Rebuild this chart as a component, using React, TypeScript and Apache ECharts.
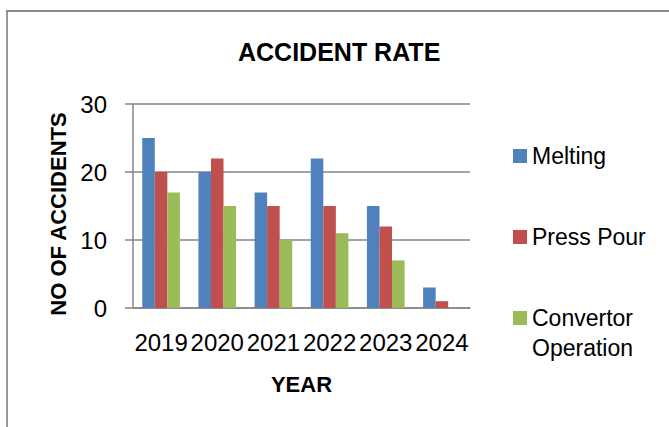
import React, { useEffect, useRef } from "react";
import * as echarts from "echarts";

const years = ["2019", "2020", "2021", "2022", "2023", "2024"];
const melting = [25, 20, 17, 22, 15, 3];
const pressPour = [20, 22, 15, 15, 12, 1];
const convertor = [17, 15, 10, 11, 7, 0];
const seriesNames = ["Melting", "Press Pour", "Convertor Operation"];
const yMin = 0;
const yMax = 30;
const yStep = 10;

const FONT = "'Liberation Sans', Arial, sans-serif";
const GRAY = "#868686";

export default function App() {
  const ref = useRef<HTMLDivElement>(null);
  useEffect(() => {
    if (!ref.current) return;
    const chart = echarts.init(ref.current, undefined, { renderer: "svg" });
    const legendBase = {
      orient: "vertical",
      left: 513,
      padding: 0,
      itemWidth: 14,
      itemHeight: 14,
      icon: "rect",
      selectedMode: false,
    };
    const legendText = { fontFamily: FONT, fontSize: 23, lineHeight: 30, color: "#000" };
    chart.setOption({
      animation: false,
      backgroundColor: "#ffffff",
      title: {
        text: "ACCIDENT RATE",
        left: 233,
        top: 34,
        textStyle: { fontFamily: FONT, fontSize: 25, fontWeight: "bold", color: "#000" },
      },
      graphic: [
        { type: "line", shape: { x1: 6, y1: 11, x2: 669, y2: 11 }, style: { stroke: "#8c8c8c", lineWidth: 1.8 } },
        { type: "line", shape: { x1: 7, y1: 11, x2: 7, y2: 427 }, style: { stroke: "#8c8c8c", lineWidth: 1.8 } },
      ],
      legend: [
        { ...legendBase, top: 141, data: [seriesNames[0]], textStyle: legendText },
        { ...legendBase, top: 222, data: [seriesNames[1]], textStyle: legendText },
        {
          ...legendBase,
          top: 273,
          data: [seriesNames[2]],
          formatter: () => " \nConvertor\nOperation",
          textStyle: legendText,
        },
      ],
      grid: { left: 133, right: 199, top: 104, bottom: 119, containLabel: false },
      xAxis: {
        type: "category",
        data: years,
        axisTick: { show: false },
        axisLine: { lineStyle: { color: GRAY, width: 1.5 } },
        axisLabel: { fontFamily: FONT, fontSize: 24, color: "#000", margin: 22, interval: 0 },
        name: "YEAR",
        nameLocation: "middle",
        nameGap: 65,
        nameTextStyle: { fontFamily: FONT, fontSize: 22, fontWeight: "bold", color: "#000" },
      },
      yAxis: {
        type: "value",
        min: yMin,
        max: yMax,
        interval: yStep,
        axisLine: { show: true, lineStyle: { color: GRAY, width: 1.5 } },
        axisTick: { show: true, inside: false, length: 8, lineStyle: { color: GRAY, width: 1.5 } },
        splitLine: { lineStyle: { color: GRAY, width: 1.5 } },
        axisLabel: { fontFamily: FONT, fontSize: 24, color: "#000", margin: 26 },
        name: "NO OF ACCIDENTS",
        nameLocation: "middle",
        nameGap: 63,
        nameTextStyle: {
          fontFamily: FONT,
          fontSize: 22,
          fontWeight: "bold",
          color: "#000",
          padding: [0, 16, 0, 0],
        },
      },
      series: [
        { name: seriesNames[0], type: "bar", data: melting, itemStyle: { color: "#4F81BD" }, barGap: "0%", barCategoryGap: "33%" },
        { name: seriesNames[1], type: "bar", data: pressPour, itemStyle: { color: "#C0504D" }, barGap: "0%", barCategoryGap: "33%" },
        { name: seriesNames[2], type: "bar", data: convertor, itemStyle: { color: "#9BBB59" }, barGap: "0%", barCategoryGap: "33%" },
      ],
    });
    return () => chart.dispose();
  }, []);
  return (
    <div
      ref={ref}
      style={{ position: "fixed", left: 0, top: 0, width: 669, height: 427, background: "#fff" }}
    />
  );
}
